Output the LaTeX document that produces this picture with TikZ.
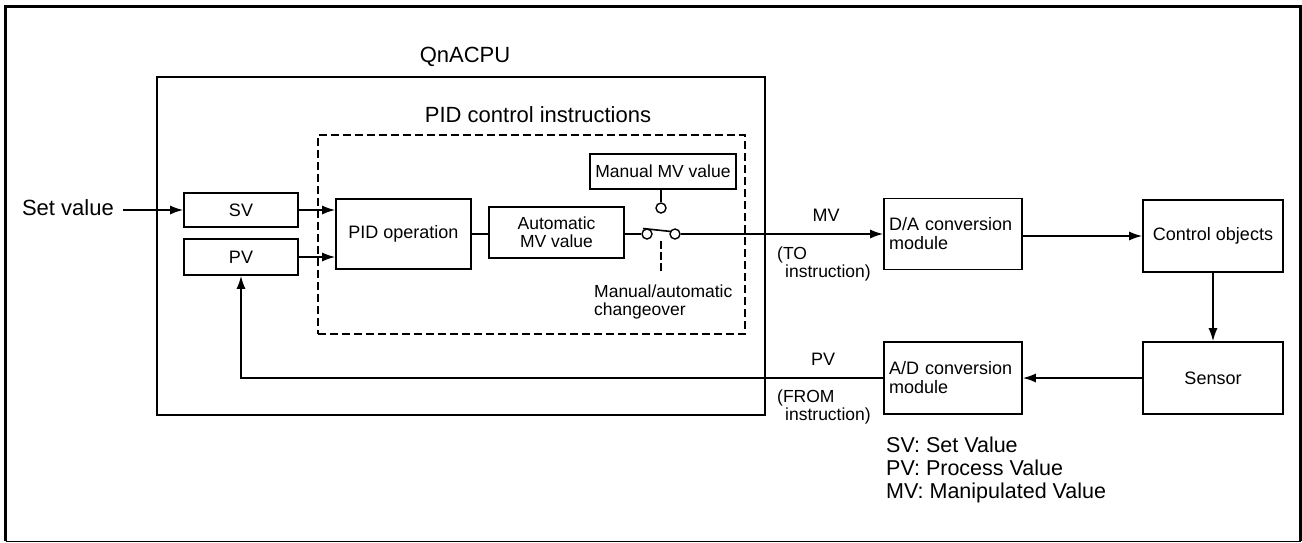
\documentclass[tikz,border=0pt]{standalone}
\usepackage{fontspec}
\setmainfont{Liberation Sans}
\usetikzlibrary{arrows.meta}
\newcommand{\fshead}{\fontsize{22}{24}\selectfont}
\newcommand{\fsbox}{\fontsize{18}{19}\selectfont}
\newcommand{\fssmall}{\fontsize{17.5}{18}\selectfont}
\newcommand{\fslegend}{\fontsize{21.5}{23}\selectfont}
\begin{document}
\begin{tikzpicture}[x=1pt,y=-1pt,
  box/.style={draw, line width=1.6pt, inner sep=0pt, align=center, font=\fsbox},
  lbox/.style={draw, line width=1.6pt, inner ysep=0pt, inner xsep=5pt, align=left, font=\fsbox, text width=128pt},
  swc/.style={draw, circle, line width=1.4pt, minimum size=10pt, inner sep=0pt},
  conn/.style={line width=1.6pt},
  arr/.style={conn, -{Latex[length=13pt,width=9pt]}},
  txt/.style={inner sep=4pt, align=left}]
\useasboundingbox (0,0) rectangle (1302,542);
% outer frame
\draw[line width=3pt] (5.5,541) -- (5.5,6.5) -- (1300.5,6.5) -- (1300.5,541);
\draw[line width=1pt] (5.5,541) -- (1300.5,541);
% QnACPU box
\node[draw, line width=1.6pt, minimum width=608pt, minimum height=338pt, inner sep=0pt] (qn) at (461,246) {};
\node[font=\fshead] (qnlabel) at (465,57) {QnACPU};
% PID control instructions dashed box
\node[draw, line width=1.5pt, dash pattern=on 8pt off 4pt, minimum width=427pt, minimum height=199pt, inner sep=0pt] (pidbox) at (531.5,234.5) {};
\node[font=\fshead] (pidlabel) at (538,115) {PID control instructions};
% left boxes
\node[box, minimum width=114pt, minimum height=34pt] (sv) at (241,210) {SV};
\node[box, minimum width=114pt, minimum height=36pt] (pv) at (241,257) {PV};
\node[font=\fshead, inner sep=0pt, anchor=east] (setv) at (114,208) {Set value};
\coordinate (setvend) at (123,210);
% PID operation
\node[box, minimum width=135pt, minimum height=70pt] (pid) at (403.5,234) {PID operation};
\node[box, font=\fssmall, minimum width=135pt, minimum height=51pt] (auto) at (556.5,232.5) {Automatic\\MV value};
\node[box, font=\fssmall, minimum width=146pt, minimum height=35pt] (manual) at (663,171.5) {Manual MV value};
% switch
\node[swc] (swl) at (647,234) {};
\node[swc] (swr) at (675,234) {};
\node[swc] (swt) at (661,208) {};
\coordinate (levA) at (643,228.5);
\coordinate (levB) at (671,231.5);
\coordinate (chgtop) at (661,241);
\coordinate (chgbot) at (661,272);
\node[txt, font=\fssmall, anchor=west] (chg) at (590,302) {Manual/automatic\\changeover};
% right side
\node[lbox, minimum height=71pt] (da) at (953,234) {D/A conversion\\module};
\node[box, minimum width=140pt, minimum height=72pt] (ctrl) at (1213,236) {Control objects};
\node[box, minimum width=140pt, minimum height=72pt] (sensor) at (1213,378) {Sensor};
\node[lbox, minimum height=72pt] (ad) at (953,378) {A/D conversion\\module};
% labels
\node[font=\fsbox] (mvlabel) at (826,215) {MV};
\node[txt, font=\fssmall, anchor=west] (tolabel) at (773,264) {(TO\\\hspace*{8pt}instruction)};
\node[font=\fsbox] (pvlabel) at (823,359) {PV};
\node[txt, font=\fssmall, anchor=west] (fromlabel) at (773,407) {(FROM\\\hspace*{8pt}instruction)};
\node[txt, font=\fslegend, anchor=west] (legend) at (882,470) {SV: Set Value\\PV: Process Value\\MV: Manipulated Value};
% connectors
\draw[arr] (setvend) -- (sv.west);
\draw[arr] (sv.east) -- (sv.east -| pid.west);
\draw[arr] (pv.east) -- (pv.east -| pid.west);
\draw[conn] (pid.east) -- (pid.east -| auto.west);
\draw[conn] (auto.east |- swl.west) -- (swl.west);
\draw[conn] (levA) -- (levB);
\draw[conn] (swt.north |- manual.south) -- (swt.north);
\draw[line width=1.4pt, dash pattern=on 8pt off 3pt] (chgtop) -- (chgbot);
\draw[arr] (swr.east) -- (swr.east -| da.west);
\draw[arr] (da.east |- ctrl.west) -- (ctrl.west);
\draw[arr] (ctrl.south) -- (sensor.north);
\draw[arr] (sensor.west) -- (ad.east);
\draw[arr] (ad.west) -| (pv.south);
\end{tikzpicture}
\end{document}
